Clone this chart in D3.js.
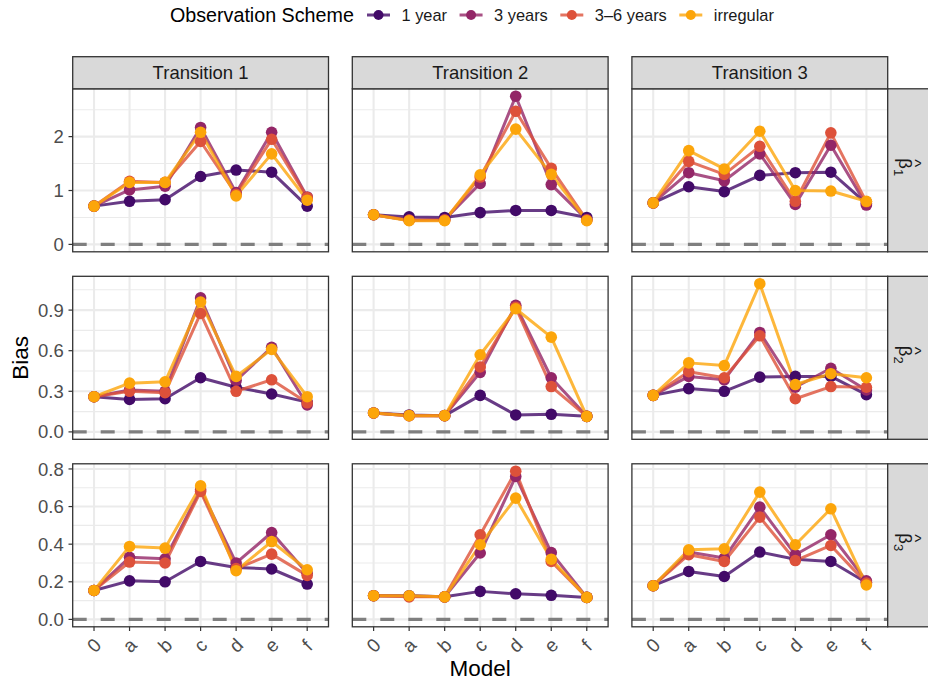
<!DOCTYPE html>
<html>
<head>
<meta charset="utf-8">
<script src="https://cdn.jsdelivr.net/npm/d3@7"></script>
<style>
  html, body { margin: 0; padding: 0; background: #fff; }
  svg { display: block; font-family: "Liberation Sans", Arial, sans-serif; }
</style>
</head>
<body>
<svg id="chart" width="928" height="682"></svg>
<script>
// Categories
const models = ["0", "a", "b", "c", "d", "e", "f"];
const transitions = ["Transition 1", "Transition 2", "Transition 3"];
const schemes = ["1 year", "3 years", "3–6 years", "irregular"];
const schemeColors = ["#420A68", "#932667", "#DD513A", "#FCA50A"];
const paramSubscripts = ["1", "2", "3"];

// Bias per model; one row per observation scheme (1 year, 3 years, 3–6 years, irregular)
const beta1_t1 = [
  [0.71, 0.80, 0.83, 1.26, 1.38, 1.34, 0.71],
  [0.71, 1.01, 1.08, 2.17, 0.96, 2.08, 0.88],
  [0.71, 1.17, 1.15, 1.91, 0.93, 1.95, 0.87],
  [0.71, 1.15, 1.15, 2.08, 0.90, 1.68, 0.82]
];
const beta1_t2 = [
  [0.55, 0.51, 0.50, 0.59, 0.63, 0.63, 0.50],
  [0.55, 0.45, 0.46, 1.13, 2.75, 1.11, 0.46],
  [0.55, 0.45, 0.45, 1.25, 2.47, 1.41, 0.45],
  [0.55, 0.44, 0.44, 1.29, 2.14, 1.30, 0.44]
];
const beta1_t3 = [
  [0.77, 1.07, 0.98, 1.28, 1.33, 1.34, 0.76],
  [0.77, 1.33, 1.18, 1.68, 0.74, 1.84, 0.73],
  [0.77, 1.54, 1.30, 1.82, 0.80, 2.07, 0.79],
  [0.77, 1.74, 1.40, 2.10, 1.00, 0.99, 0.80]
];
const beta2_t1 = [
  [0.26, 0.24, 0.245, 0.40, 0.33, 0.28, 0.22],
  [0.26, 0.31, 0.30, 0.99, 0.38, 0.625, 0.20],
  [0.26, 0.30, 0.29, 0.875, 0.30, 0.385, 0.215],
  [0.26, 0.36, 0.37, 0.96, 0.41, 0.61, 0.26]
];
const beta2_t2 = [
  [0.14, 0.125, 0.12, 0.27, 0.125, 0.13, 0.115],
  [0.14, 0.12, 0.12, 0.44, 0.935, 0.40, 0.115],
  [0.14, 0.12, 0.12, 0.48, 0.92, 0.335, 0.115],
  [0.14, 0.12, 0.12, 0.57, 0.91, 0.70, 0.115]
];
const beta2_t3 = [
  [0.27, 0.32, 0.30, 0.405, 0.41, 0.41, 0.275],
  [0.27, 0.41, 0.385, 0.735, 0.33, 0.47, 0.31],
  [0.27, 0.445, 0.40, 0.71, 0.245, 0.335, 0.33],
  [0.27, 0.51, 0.49, 1.095, 0.35, 0.43, 0.40]
];
const beta3_t1 = [
  [0.154, 0.205, 0.20, 0.308, 0.276, 0.268, 0.188],
  [0.154, 0.33, 0.322, 0.69, 0.30, 0.462, 0.245],
  [0.154, 0.305, 0.30, 0.68, 0.27, 0.347, 0.234],
  [0.154, 0.388, 0.379, 0.71, 0.259, 0.414, 0.264]
];
const beta3_t2 = [
  [0.126, 0.126, 0.12, 0.149, 0.136, 0.128, 0.117],
  [0.126, 0.124, 0.12, 0.353, 0.76, 0.355, 0.117],
  [0.126, 0.12, 0.12, 0.45, 0.788, 0.308, 0.117],
  [0.126, 0.126, 0.12, 0.397, 0.645, 0.32, 0.117]
];
const beta3_t3 = [
  [0.179, 0.255, 0.228, 0.358, 0.32, 0.308, 0.196],
  [0.179, 0.358, 0.326, 0.597, 0.344, 0.45, 0.205],
  [0.179, 0.344, 0.308, 0.544, 0.313, 0.393, 0.193],
  [0.179, 0.37, 0.375, 0.677, 0.397, 0.588, 0.183]
];

// Y axis ticks per parameter row
const yTicks_beta1 = [0, 1, 2];
const yTicks_beta2 = [0, 0.3, 0.6, 0.9];
const yTicks_beta3 = [0, 0.2, 0.4, 0.6, 0.8];
const yTickFormats = [d3.format("d"), d3.format(".1f"), d3.format(".1f")];

const panelData = [
  [beta1_t1, beta1_t2, beta1_t3],
  [beta2_t1, beta2_t2, beta2_t3],
  [beta3_t1, beta3_t2, beta3_t3]
];
const rowTicks = [yTicks_beta1, yTicks_beta2, yTicks_beta3];

// Layout
const svg = d3.select("#chart");
const panelLeft = 72.7, panelTop = 88.8;
const panelW = 255.8, panelH = 163, gap = 24.5, colGap = 23.8;
const stripH = 32.1;
const gridCol = "#EBEBEB", borderCol = "#333333", stripFill = "#D9D9D9";
const axisTextCol = "#4D4D4D";

const x = d3.scalePoint().domain(models).range([0, panelW]).padding(0.6);

svg.append("rect").attr("width", 928).attr("height", 682).attr("fill", "#fff");

function colX(c) { return panelLeft + c * (panelW + colGap); }
function rowY(r) { return panelTop + r * (panelH + gap); }

panelData.forEach((rowSets, r) => {
  // Shared y scale per row, including the zero reference line
  const allVals = rowSets.flat(2).concat([0]);
  const lo = d3.min(allVals), hi = d3.max(allVals);
  const pad = (hi - lo) * 0.05;
  const y = d3.scaleLinear().domain([lo - pad, hi + pad]).range([panelH, 0]);
  const ticks = rowTicks[r];
  const step = ticks[1] - ticks[0];
  const minor = [];
  for (let v = ticks[0] - step / 2; v <= hi + pad; v += step) {
    if (v >= lo - pad) minor.push(v);
  }

  rowSets.forEach((series, c) => {
    const g = svg.append("g").attr("transform", `translate(${colX(c)},${rowY(r)})`);
    g.append("rect").attr("width", panelW).attr("height", panelH).attr("fill", "#fff");

    // grid
    g.selectAll(".minor").data(minor).join("line")
      .attr("x1", 0).attr("x2", panelW)
      .attr("y1", d => y(d)).attr("y2", d => y(d))
      .attr("stroke", gridCol).attr("stroke-width", 1.1);
    g.selectAll(".majorY").data(ticks).join("line")
      .attr("x1", 0).attr("x2", panelW)
      .attr("y1", d => y(d)).attr("y2", d => y(d))
      .attr("stroke", gridCol).attr("stroke-width", 2.1);
    g.selectAll(".majorX").data(models).join("line")
      .attr("x1", d => x(d)).attr("x2", d => x(d))
      .attr("y1", 0).attr("y2", panelH)
      .attr("stroke", gridCol).attr("stroke-width", 2.1);

    // zero reference
    g.append("line")
      .attr("x1", 0).attr("x2", panelW)
      .attr("y1", y(0)).attr("y2", y(0))
      .attr("stroke", "#7F7F7F").attr("stroke-width", 3.2)
      .attr("stroke-dasharray", "14,14");

    const line = d3.line().x((d, i) => x(models[i])).y(d => y(d));
    series.forEach((vals, s) => {
      g.append("path").datum(vals)
        .attr("d", line)
        .attr("fill", "none")
        .attr("stroke", schemeColors[s])
        .attr("stroke-opacity", 0.8)
        .attr("stroke-width", 3)
        .attr("stroke-linejoin", "round");
    });
    series.forEach((vals, s) => {
      g.selectAll(null).data(vals).join("circle")
        .attr("cx", (d, i) => x(models[i]))
        .attr("cy", d => y(d))
        .attr("r", 5.8)
        .attr("fill", schemeColors[s]);
    });

    g.append("rect").attr("width", panelW).attr("height", panelH)
      .attr("fill", "none").attr("stroke", borderCol).attr("stroke-width", 1.3);

    // y axis on first column
    if (c === 0) {
      const ya = svg.append("g").attr("transform", `translate(${colX(0)},${rowY(r)})`);
      ticks.forEach(t => {
        ya.append("line").attr("x1", -4.2).attr("x2", 0)
          .attr("y1", y(t)).attr("y2", y(t))
          .attr("stroke", borderCol).attr("stroke-width", 1.2);
        ya.append("text").attr("x", -9).attr("y", y(t) + 6.6)
          .attr("text-anchor", "end").attr("font-size", 18.5)
          .attr("fill", axisTextCol).text(yTickFormats[r](t));
      });
    }

    // x axis on bottom row
    if (r === panelData.length - 1) {
      models.forEach(m => {
        g.append("line").attr("x1", x(m)).attr("x2", x(m))
          .attr("y1", panelH).attr("y2", panelH + 4.2)
          .attr("stroke", borderCol).attr("stroke-width", 1.2);
        g.append("text")
          .attr("transform", `translate(${x(m)},${panelH + 18.5}) rotate(-45)`)
          .attr("text-anchor", "middle").attr("dominant-baseline", "central")
          .attr("font-size", 19).attr("fill", axisTextCol).text(m);
      });
    }
  });

  // right strip with parameter label
  const sy = rowY(r);
  svg.append("rect").attr("x", colX(2) + panelW).attr("y", sy)
    .attr("width", 50).attr("height", panelH)
    .attr("fill", stripFill).attr("stroke", borderCol).attr("stroke-width", 1.3);
  const lab = svg.append("g")
    .attr("transform", `translate(904,${sy + panelH / 2}) rotate(90)`)
    .attr("fill", "#1A1A1A");
  const t = lab.append("text").attr("x", -3).attr("y", 5)
    .attr("text-anchor", "middle").attr("font-size", 18.5);
  t.append("tspan").text("β");
  t.append("tspan").attr("font-size", 13).attr("dy", 5).text(paramSubscripts[r]);
  lab.append("text").attr("x", -7).attr("y", -5)
    .attr("text-anchor", "middle").attr("font-size", 17).text("^");
});

// top strips
transitions.forEach((name, c) => {
  svg.append("rect").attr("x", colX(c)).attr("y", panelTop - stripH)
    .attr("width", panelW).attr("height", stripH)
    .attr("fill", stripFill).attr("stroke", borderCol).attr("stroke-width", 1.3);
  svg.append("text").attr("x", colX(c) + panelW / 2).attr("y", panelTop - stripH + 22.7)
    .attr("text-anchor", "middle").attr("font-size", 18.5).attr("fill", "#1A1A1A")
    .text(name);
});

// axis titles
svg.append("text").attr("x", (panelLeft + colX(2) + panelW) / 2).attr("y", 676)
  .attr("text-anchor", "middle").attr("font-size", 22.5).attr("fill", "#000").text("Model");
svg.append("text")
  .attr("transform", `translate(28,${(panelTop + rowY(2) + panelH) / 2}) rotate(-90)`)
  .attr("text-anchor", "middle").attr("font-size", 22.5).attr("fill", "#000").text("Bias");

// legend
const leg = svg.append("g");
leg.append("text").attr("x", 170).attr("y", 22).attr("font-size", 19.7)
  .attr("fill", "#000").text("Observation Scheme");
let lx = 367;
schemes.forEach((s, i) => {
  leg.append("line").attr("x1", lx).attr("x2", lx + 23).attr("y1", 15).attr("y2", 15)
    .attr("stroke", schemeColors[i]).attr("stroke-opacity", 0.8).attr("stroke-width", 3);
  leg.append("circle").attr("cx", lx + 11.5).attr("cy", 15).attr("r", 5)
    .attr("fill", schemeColors[i]);
  const txt = leg.append("text").attr("x", lx + 34.5).attr("y", 21)
    .attr("font-size", 16.4).attr("fill", "#1A1A1A").text(s);
  lx = lx + 34.5 + txt.node().getComputedTextLength() + 12.5;
});
</script>
</body>
</html>
